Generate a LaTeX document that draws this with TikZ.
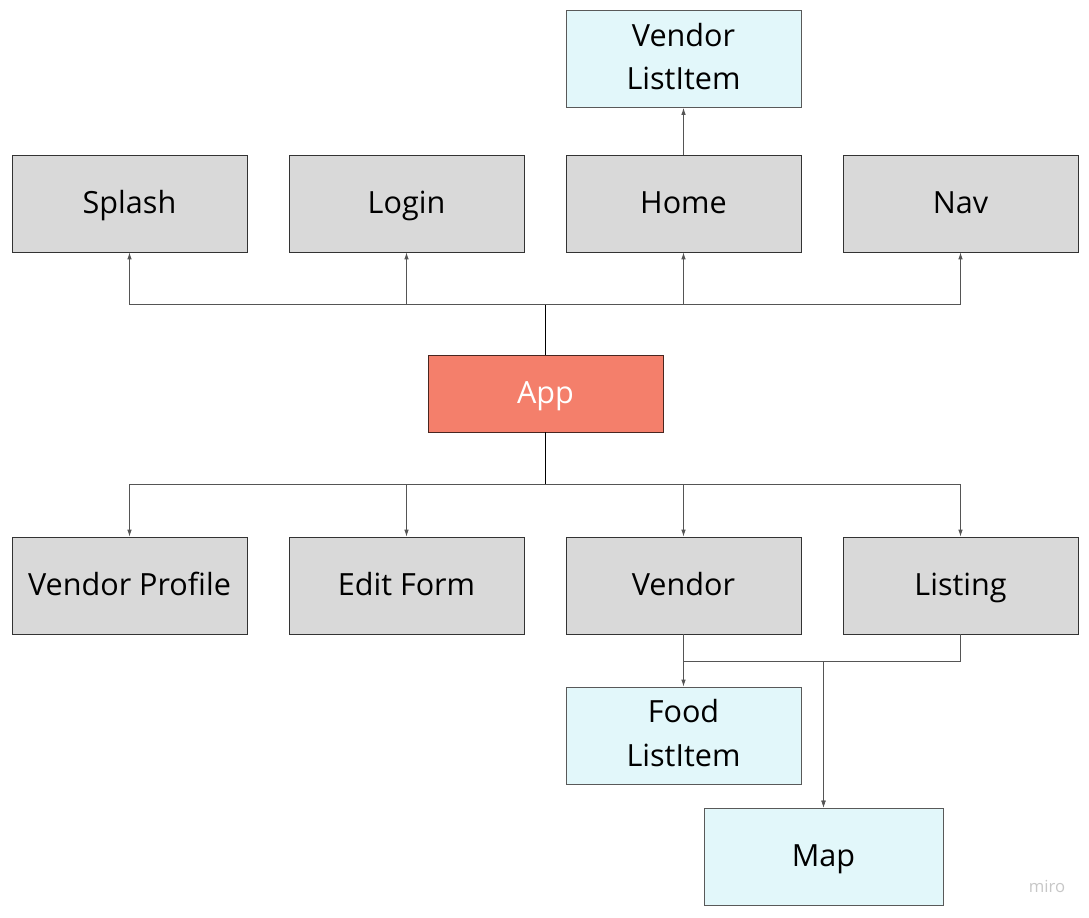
\documentclass[tikz,border=0pt]{standalone}
\usepackage{fontspec}
\setmainfont{Open Sans}
\usetikzlibrary{arrows.meta}

\definecolor{boxgray}{RGB}{217,217,217}
\definecolor{boxcyan}{RGB}{226,247,250}
\definecolor{appred}{RGB}{244,127,107}
\definecolor{linegray}{RGB}{85,85,85}

\begin{document}
\begin{tikzpicture}[x=0.02cm,y=-0.02cm,
  comp/.style={draw=black!80,fill=boxgray,minimum width=4.7cm,minimum height=1.94cm,
    align=center,font=\fontsize{17.4}{24.5}\selectfont,inner sep=0pt,
    text height=12.5pt,text depth=1.5pt},
  leaf/.style={comp,fill=boxcyan,draw=black!65,text height=,text depth=3pt},
  arr/.style={-{Latex[length=4pt,width=2.6pt]},draw=linegray,line width=0.5pt}]
\useasboundingbox (0,0) rectangle (1089,917);

\node[leaf] (vli) at (683.5,59) {Vendor\\ListItem};
\node[comp] (splash) at (129.5,203.5) {Splash};
\node[comp] (login) at (406.5,203.5) {Login};
\node[comp] (home) at (683.5,203.5) {Home};
\node[comp] (nav) at (960.5,203.5) {Nav};
\node[comp,fill=appred,draw=black!70!appred,minimum height=1.54cm,text=white] (app) at (545.5,393.5) {App};
\node[comp] (vprof) at (129.5,585.5) {Vendor Profile};
\node[comp] (edit) at (406.5,585.5) {Edit Form};
\node[comp] (vendor) at (683.5,585.5) {Vendor};
\node[comp] (listing) at (960.5,585.5) {Listing};
\node[leaf] (food) at (683.5,735.5) {Food\\ListItem};
\node[leaf,minimum width=4.78cm,text height=12.5pt,text depth=1.5pt] (map) at (823.5,856.5) {Map};

\coordinate (topbus) at (545.5,304);
\coordinate (botbus) at (545.5,484);
\coordinate (mapbus) at (823.5,661);

\draw[line width=0.6pt] (app.north) -- (topbus);
\draw[line width=0.6pt] (app.south) -- (botbus);
\foreach \n in {splash,login,home,nav}
  \draw[arr] (topbus) -| (\n.south);
\foreach \n in {vprof,edit,vendor,listing}
  \draw[arr] (botbus) -| (\n.north);

\draw[arr] (home) -- (vli);
\draw[arr] (vendor) -- (food);
\draw[arr] (vendor.south) |- (mapbus) -- (map.north);
\draw[arr] (listing.south) |- (mapbus) -- (map.north);

\node[text=black!22,font=\fontsize{9.5}{11}\selectfont] (miro) at (1047,886) {miro};
\end{tikzpicture}
\end{document}
